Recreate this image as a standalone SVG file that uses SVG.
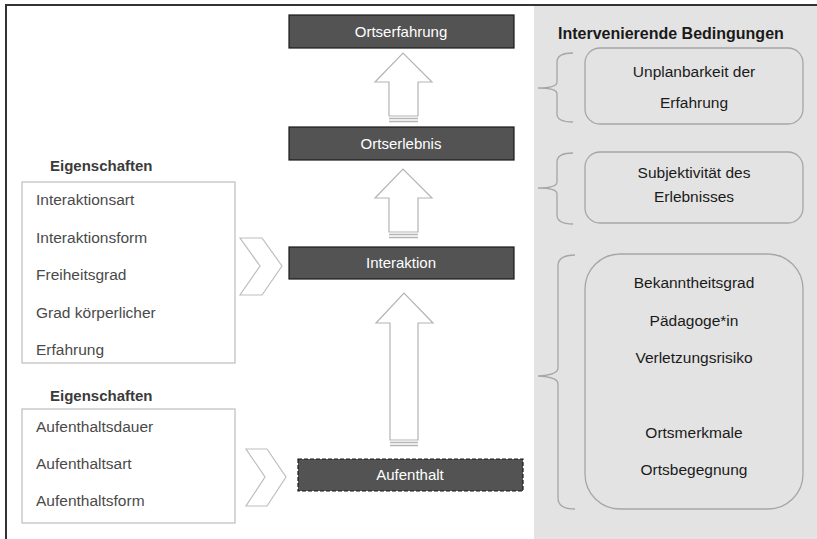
<svg xmlns="http://www.w3.org/2000/svg" width="817" height="539" viewBox="0 0 817 539">
  <style>
    text { font-family: "Liberation Sans", Arial, sans-serif; }
    .frame { fill: none; stroke: #333; stroke-width: 2; }
    .panel { fill: #e3e3e3; }
    .step { fill: #535353; stroke: #1a1a1a; stroke-width: 1.2; }
    .step-dashed { fill: #535353; stroke: #1a1a1a; stroke-width: 1.2; stroke-dasharray: 4 2; }
    .step-label { fill: #ffffff; font-size: 15px; text-anchor: middle; }
    .arrow { fill: #ffffff; stroke: #b4b4b4; stroke-width: 1.2; }
    .stripe { stroke: #b4b4b4; stroke-width: 1.5; fill: none; }
    .props { fill: #ffffff; stroke: #bdbdbd; stroke-width: 1.2; }
    .props-title { fill: #3b3b3b; font-size: 15px; font-weight: bold; }
    .props-item { fill: #4a4a4a; font-size: 15.5px; }
    .chevron { fill: #ffffff; stroke: #bdbdbd; stroke-width: 1.2; }
    .cond { fill: none; stroke: #a6a6a6; stroke-width: 1.3; }
    .cond-title { fill: #1a1a1a; font-size: 16px; font-weight: bold; }
    .cond-item { fill: #1a1a1a; font-size: 15.5px; text-anchor: middle; }
    .brace { fill: none; stroke: #a6a6a6; stroke-width: 1.3; }
  </style>

  <!-- background and frame -->
  <rect x="0" y="0" width="817" height="539" fill="#ffffff"/>
  <rect class="panel" x="534" y="6" width="283" height="533"/>
  <path class="frame" d="M6,539 V5 H817"/>

  <!-- connectors: upward block arrows and chevrons -->
  <g id="connectors">
    <path class="arrow" d="M389,116 V82 H375 L403,53 L432,82 H418 V116 Z"/>
    <line class="stripe" x1="389" y1="118.5" x2="418" y2="118.5"/>
    <line class="stripe" x1="389" y1="121.5" x2="418" y2="121.5"/>

    <path class="arrow" d="M389,232 V198 H375 L403,169 L432,198 H418 V232 Z"/>
    <line class="stripe" x1="389" y1="234.5" x2="418" y2="234.5"/>
    <line class="stripe" x1="389" y1="237.5" x2="418" y2="237.5"/>

    <path class="arrow" d="M390,440 V323 H376 L404,293 L433,323 H418 V440 Z"/>
    <line class="stripe" x1="390" y1="442.5" x2="418" y2="442.5"/>
    <line class="stripe" x1="390" y1="445.5" x2="418" y2="445.5"/>

    <path class="chevron" d="M240,238 H262 L282,266 L262,295 H240 L260,266 Z"/>
    <path class="chevron" d="M246,449 H267 L286,477 L267,506 H246 L265,477 Z"/>
  </g>

  <!-- central process steps -->
  <g id="ortserfahrung">
    <rect class="step" x="289" y="15" width="225" height="33"/>
    <text class="step-label" x="401" y="37">Ortserfahrung</text>
  </g>
  <g id="ortserlebnis">
    <rect class="step" x="289" y="127" width="225" height="33"/>
    <text class="step-label" x="401" y="149">Ortserlebnis</text>
  </g>
  <g id="interaktion">
    <rect class="step" x="289" y="247" width="225" height="32"/>
    <text class="step-label" x="401" y="268">Interaktion</text>
  </g>
  <g id="aufenthalt">
    <rect class="step-dashed" x="298" y="459" width="225" height="32"/>
    <text class="step-label" x="410" y="480">Aufenthalt</text>
  </g>

  <!-- properties of the interaction -->
  <g id="eigenschaften-interaktion">
    <text class="props-title" x="50" y="171">Eigenschaften</text>
    <rect class="props" x="22" y="182" width="213" height="181"/>
    <text class="props-item" x="36" y="205">Interaktionsart</text>
    <text class="props-item" x="36" y="243">Interaktionsform</text>
    <text class="props-item" x="36" y="280">Freiheitsgrad</text>
    <text class="props-item" x="36" y="318">Grad körperlicher</text>
    <text class="props-item" x="36" y="355">Erfahrung</text>
  </g>

  <!-- properties of the stay -->
  <g id="eigenschaften-aufenthalt">
    <text class="props-title" x="50" y="401">Eigenschaften</text>
    <rect class="props" x="22" y="409" width="213" height="114"/>
    <text class="props-item" x="36" y="432">Aufenthaltsdauer</text>
    <text class="props-item" x="36" y="469">Aufenthaltsart</text>
    <text class="props-item" x="36" y="506">Aufenthaltsform</text>
  </g>

  <!-- intervening conditions -->
  <g id="bedingungen-titel">
    <text class="cond-title" x="558" y="39">Intervenierende Bedingungen</text>
  </g>
  <g id="bedingung-unplanbarkeit">
    <path class="brace" d="M573,53 Q557,53 557,62 V82 Q557,88 538,88 Q557,88 557,94 V114 Q557,122 573,122"/>
    <rect class="cond" x="585" y="48" width="218" height="76" rx="15"/>
    <text class="cond-item" x="694" y="77">Unplanbarkeit der</text>
    <text class="cond-item" x="694" y="108">Erfahrung</text>
  </g>
  <g id="bedingung-subjektivitaet">
    <path class="brace" d="M573,153 Q557,153 557,162 V182 Q557,188 538,188 Q557,188 557,194 V215 Q557,224 573,224"/>
    <rect class="cond" x="585" y="152" width="218" height="71" rx="15"/>
    <text class="cond-item" x="694" y="178">Subjektivität des</text>
    <text class="cond-item" x="694" y="202">Erlebnisses</text>
  </g>
  <g id="bedingung-ort">
    <path class="brace" d="M575,255 Q558,255 558,266 V368 Q558,375 538,376 Q558,377 558,384 V498 Q558,509 575,509"/>
    <rect class="cond" x="585" y="254" width="218" height="255" rx="35"/>
    <text class="cond-item" x="694" y="288">Bekanntheitsgrad</text>
    <text class="cond-item" x="694" y="326">Pädagoge*in</text>
    <text class="cond-item" x="694" y="363">Verletzungsrisiko</text>
    <text class="cond-item" x="694" y="438">Ortsmerkmale</text>
    <text class="cond-item" x="694" y="475">Ortsbegegnung</text>
  </g>
</svg>
